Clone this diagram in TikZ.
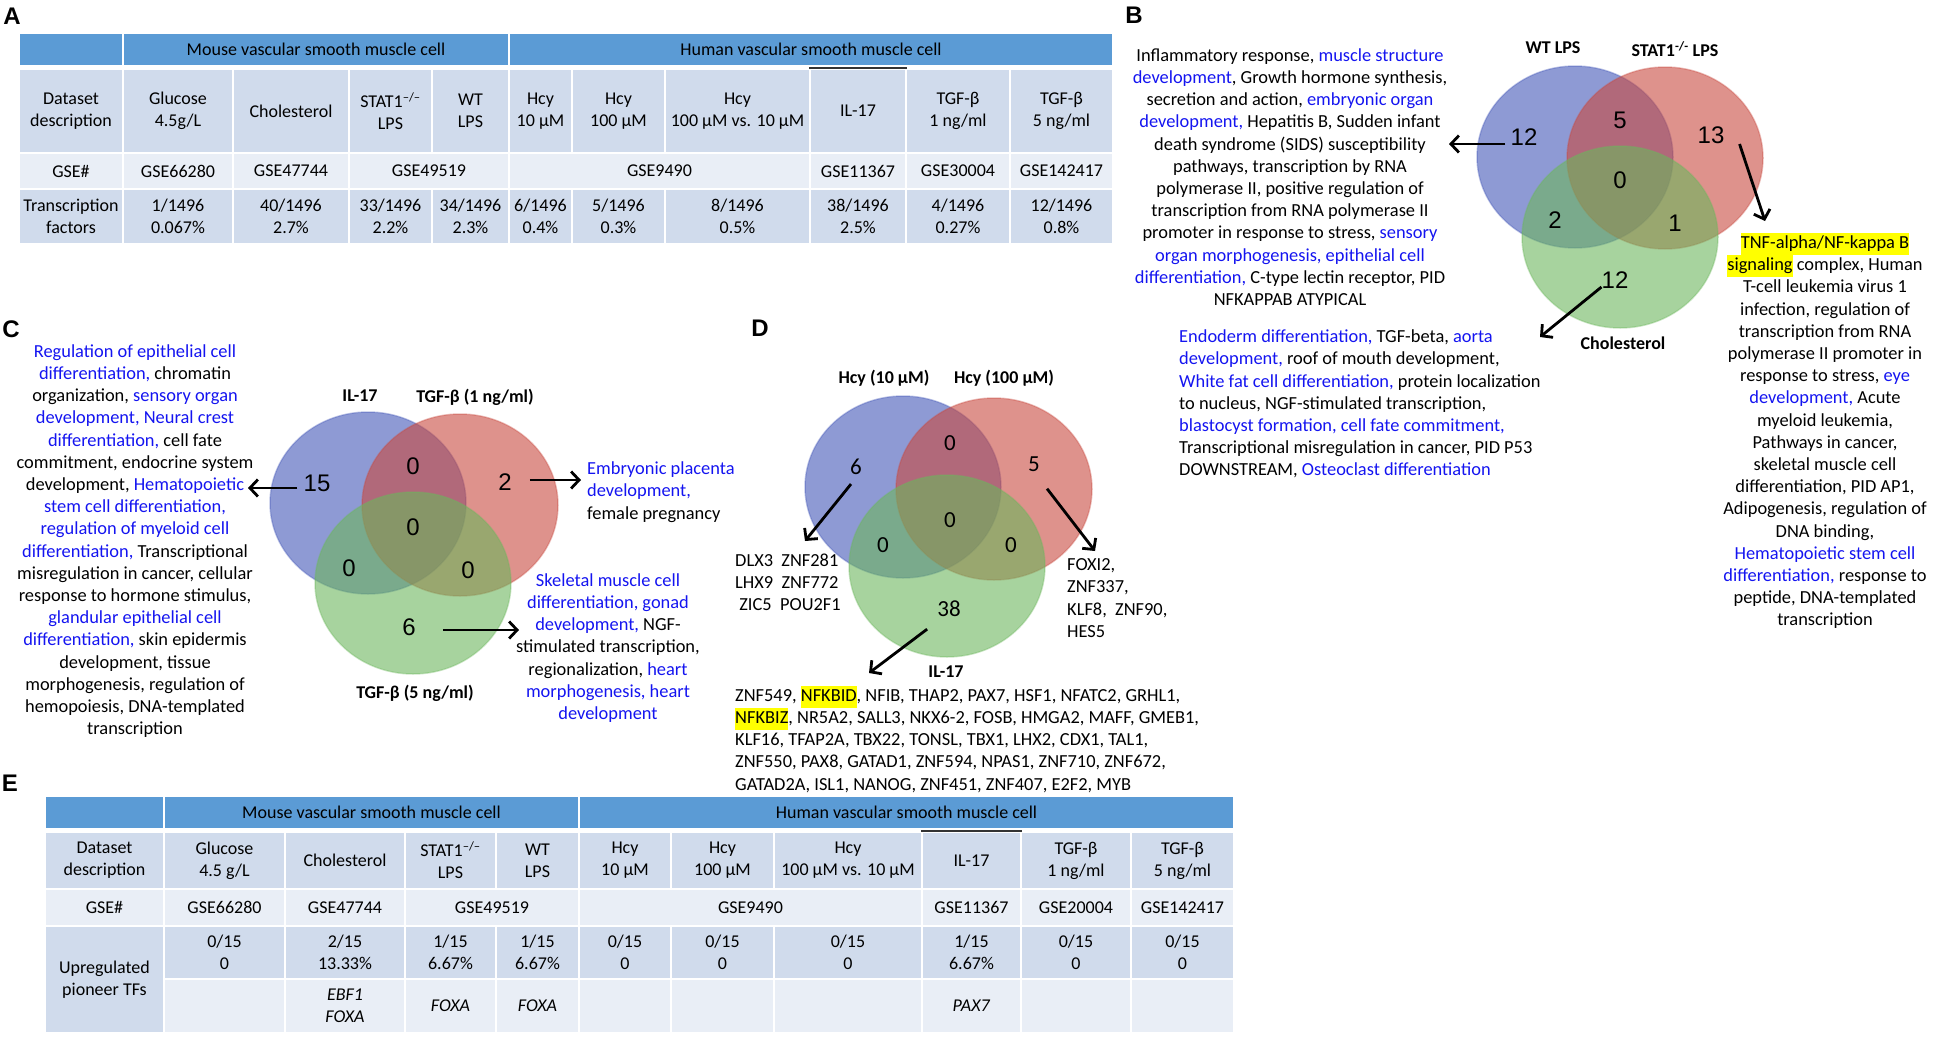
\documentclass[tikz,border=0pt]{standalone}
\usepackage{fontspec}
\setmainfont{Carlito}
\newfontfamily\arialfont{Liberation Sans}
\usepackage{tikz}
\usetikzlibrary{arrows.meta,shapes.geometric}

\definecolor{thead}{RGB}{91,155,213}
\definecolor{tdark}{RGB}{208,219,236}
\definecolor{tlight}{RGB}{233,238,246}
\definecolor{tblue}{RGB}{20,20,240}
\definecolor{hlyel}{RGB}{255,255,0}
\definecolor{vblue}{RGB}{67,87,183}
\definecolor{vred}{RGB}{200,73,63}
\definecolor{vgreen}{RGB}{108,182,93}

\newcommand{\blu}[1]{\textcolor{tblue}{#1}}
\newcommand{\hlite}[1]{{\setlength{\fboxsep}{0pt}\colorbox{hlyel}{\strut#1}}}
\newcommand{\ko}{\textsuperscript{–/–}}
\newcommand{\tabfont}{\fontsize{18}{22}\selectfont}
\newcommand{\bodyfont}{\fontsize{18.4}{22.2}\selectfont}
% cell: name, x1, y1, x2, y2, fill, text
\newcommand{\tcellat}[7]{\node[tcell, fill=#6, minimum width={(#4)-(#2)}, minimum height={(#5)-(#3)}] (#1) at ({((#2)+(#4))/2},{((#3)+(#5))/2}) {#7};}

\tikzset{
  tcell/.style={draw=white, line width=2.5pt, align=center, inner sep=0pt, font=\tabfont},
  vcirc/.style={ellipse, minimum width=196pt, minimum height=182pt, fill opacity=0.6, draw opacity=0.35, line width=1.5pt},
  vnum/.style={inner sep=1pt, font=\arialfont\fontsize{24}{24}\selectfont},
  dnum/.style={inner sep=1pt, font=\fontsize{23}{23}\selectfont},
  vlab/.style={inner sep=0pt, font=\bfseries\fontsize{18}{22}\selectfont},
  gotxt/.style={align=center, inner sep=0pt, font=\bodyfont},
  gotxtl/.style={align=left, inner sep=0pt, anchor=west, font=\bodyfont},
  plabel/.style={inner sep=0pt, font=\arialfont\bfseries\fontsize{24}{24}\selectfont},
  arr/.style={-{Straight Barb[length=8pt,width=17pt,line width=2.8pt]}, line width=2.8pt}
}

\begin{document}
\begin{tikzpicture}[x=1pt, y=-1pt]
\useasboundingbox (0,0) rectangle (1933,1039);

% panel letters
\node[plabel] (pa) at (12,16) {A};
\node[plabel] (pb) at (1134,15) {B};
\node[plabel] (pc) at (11,329) {C};
\node[plabel] (pd) at (760,328) {D};
\node[plabel] (pe) at (10,783) {E};

% ---------- table A
\tcellat{a11}{19}{33}{123}{66}{thead}{}
\tcellat{a12}{123}{33}{509}{66}{thead}{Mouse vascular smooth muscle cell}
\tcellat{a13}{509}{33}{1113}{66}{thead}{Human vascular smooth muscle cell}
\tcellat{a21}{19}{69}{123}{153}{tdark}{Dataset\\description}
\tcellat{a22}{123}{69}{233}{153}{tdark}{Glucose\\4.5g/L}
\tcellat{a23}{233}{69}{349}{153}{tdark}{Cholesterol}
\tcellat{a24}{349}{69}{432}{153}{tdark}{STAT1\ko\\LPS}
\tcellat{a25}{432}{69}{509}{153}{tdark}{WT\\LPS}
\tcellat{a26}{509}{69}{572}{153}{tdark}{Hcy\\10 µM}
\tcellat{a27}{572}{69}{665}{153}{tdark}{Hcy\\100 µM}
\tcellat{a28}{665}{69}{810}{153}{tdark}{Hcy\\100 µM vs. 10 µM}
\tcellat{a29}{810}{69}{906}{153}{tdark}{IL-17}
\tcellat{a2a}{906}{69}{1010}{153}{tdark}{TGF-β\\1 ng/ml}
\tcellat{a2b}{1010}{69}{1113}{153}{tdark}{TGF-β\\5 ng/ml}
\tcellat{a31}{19}{153}{123}{189}{tlight}{GSE\#}
\tcellat{a32}{123}{153}{233}{189}{tlight}{GSE66280}
\tcellat{a33}{233}{153}{349}{189}{tlight}{GSE47744}
\tcellat{a34}{349}{153}{509}{189}{tlight}{GSE49519}
\tcellat{a35}{509}{153}{810}{189}{tlight}{GSE9490}
\tcellat{a36}{810}{153}{906}{189}{tlight}{GSE11367}
\tcellat{a37}{906}{153}{1010}{189}{tlight}{GSE30004}
\tcellat{a38}{1010}{153}{1113}{189}{tlight}{GSE142417}
\tcellat{a41}{19}{189}{123}{244}{tdark}{Transcription\\factors}
\tcellat{a42}{123}{189}{233}{244}{tdark}{1/1496\\0.067\%}
\tcellat{a43}{233}{189}{349}{244}{tdark}{40/1496\\2.7\%}
\tcellat{a44}{349}{189}{432}{244}{tdark}{33/1496\\2.2\%}
\tcellat{a45}{432}{189}{509}{244}{tdark}{34/1496\\2.3\%}
\tcellat{a46}{509}{189}{572}{244}{tdark}{6/1496\\0.4\%}
\tcellat{a47}{572}{189}{665}{244}{tdark}{5/1496\\0.3\%}
\tcellat{a48}{665}{189}{810}{244}{tdark}{8/1496\\0.5\%}
\tcellat{a49}{810}{189}{906}{244}{tdark}{38/1496\\2.5\%}
\tcellat{a4a}{906}{189}{1010}{244}{tdark}{4/1496\\0.27\%}
\tcellat{a4b}{1010}{189}{1113}{244}{tdark}{12/1496\\0.8\%}
\draw[line width=2pt, black!80] (a29.north west) -- (a29.north east);

% ---------- B
\node[vcirc, fill=vblue, draw=vblue] (bwt) at (1575,157) {};
\node[vcirc, fill=vred, draw=vred] (bst) at (1665,158) {};
\node[vcirc, fill=vgreen, draw=vgreen] (bch) at (1620,237) {};
\node[vlab] (bwtl) at (1553,48) {WT LPS};
\node[vlab] (bstl) at (1675,49) {STAT1\textsuperscript{-/-} LPS};
\node[vlab] (bchl) at (1623,343) {Cholesterol};
\node[vnum] (bn12) at (1524,137) {12};
\node[vnum] (bn5) at (1620,120) {5};
\node[vnum] (bn13) at (1711,135) {13};
\node[vnum] (bn0) at (1620,180) {0};
\node[vnum] (bn2) at (1555,220) {2};
\node[vnum] (bn1) at (1675,223) {1};
\node[vnum] (bn12g) at (1615,280) {12};
\node[gotxt] (btxtl) at (1290,177) {Inflammatory response, \blu{muscle structure}\\
  \blu{development}, Growth hormone synthesis,\\
  secretion and action, \blu{embryonic organ}\\
  \blu{development,} Hepatitis B, Sudden infant\\
  death syndrome (SIDS) susceptibility\\
  pathways, transcription by RNA\\
  polymerase II, positive regulation of\\
  transcription from RNA polymerase II\\
  promoter in response to stress, \blu{sensory}\\
  \blu{organ morphogenesis, epithelial cell}\\
  \blu{differentiation,} C-type lectin receptor, PID\\
  NFKAPPAB ATYPICAL};
\node[gotxt] (btxtr) at (1825,431) {\hlite{TNF-alpha/NF-kappa B}\\
  \hlite{signaling} complex, Human\\
  T-cell leukemia virus 1\\
  infection, regulation of\\
  transcription from RNA\\
  polymerase II promoter in\\
  response to stress, \blu{eye}\\
  \blu{development,} Acute\\
  myeloid leukemia,\\
  Pathways in cancer,\\
  skeletal muscle cell\\
  differentiation, PID AP1,\\
  Adipogenesis, regulation of\\
  DNA binding,\\
  \blu{Hematopoietic stem cell}\\
  \blu{differentiation,} response to\\
  peptide, DNA-templated\\
  transcription};
\node[gotxtl] (btxtb) at (1179,404) {\blu{Endoderm differentiation,} TGF-beta, \blu{aorta}\\
  \blu{development,} roof of mouth development,\\
  \blu{White fat cell differentiation,} protein localization\\
  to nucleus, NGF-stimulated transcription,\\
  \blu{blastocyst formation, cell fate commitment,}\\
  Transcriptional misregulation in cancer, PID P53\\
  DOWNSTREAM, \blu{Osteoclast differentiation}};
\coordinate (btipl) at (1449,144);
\coordinate (btipr) at (1765,221);
\coordinate (btipb) at (1540,337);
\draw[arr] ([shift={(-4,7)}]bn12.west) -- (btipl);
\draw[arr] ([shift={(14,9)}]bn13.east) -- (btipr);
\draw[arr] ([shift={(1,7)}]bn12g.west) -- (btipb);

% ---------- C
\node[vcirc, fill=vblue, draw=vblue] (cil) at (368,503) {};
\node[vcirc, fill=vred, draw=vred] (ct1) at (460,505) {};
\node[vcirc, fill=vgreen, draw=vgreen] (ct5) at (413,583) {};
\node[vlab] (cill) at (360,396) {IL-17};
\node[vlab] (ct1l) at (475,397) {TGF-β (1 ng/ml)};
\node[vlab] (ct5l) at (415,693) {TGF-β (5 ng/ml)};
\node[vnum] (cn15) at (317,483) {15};
\node[vnum] (cn0a) at (413,466) {0};
\node[vnum] (cn2) at (505,482) {2};
\node[vnum] (cn0b) at (413,527) {0};
\node[vnum] (cn0c) at (349,568) {0};
\node[vnum] (cn0d) at (468,570) {0};
\node[vnum] (cn6) at (409,627) {6};
\node[gotxt] (ctxtl) at (135,541) {\blu{Regulation of epithelial cell}\\
  \blu{differentiation,} chromatin\\
  organization, \blu{sensory organ}\\
  \blu{development, Neural crest}\\
  \blu{differentiation,} cell fate\\
  commitment, endocrine system\\
  development, \blu{Hematopoietic}\\
  \blu{stem cell differentiation,}\\
  \blu{regulation of myeloid cell}\\
  \blu{differentiation,} Transcriptional\\
  misregulation in cancer, cellular\\
  response to hormone stimulus,\\
  \blu{glandular epithelial cell}\\
  \blu{differentiation,} skin epidermis\\
  development, tissue\\
  morphogenesis, regulation of\\
  hemopoiesis, DNA-templated\\
  transcription};
\node[gotxtl] (ctxtr) at (587,492) {\blu{Embryonic placenta}\\
  \blu{development,}\\
  female pregnancy};
\node[gotxt] (ctxtb) at (608,648) {\blu{Skeletal muscle cell}\\
  \blu{differentiation, gonad}\\
  \blu{development,} NGF-\\
  stimulated transcription,\\
  regionalization, \blu{heart}\\
  \blu{morphogenesis, heart}\\
  \blu{development}};
\coordinate (ctipl) at (248,488);
\coordinate (ctipr) at (581,480);
\coordinate (ctipb) at (519,630);
\draw[arr] ([shift={(-5,5)}]cn15.west) -- (ctipl);
\draw[arr] ([shift={(17,-2)}]cn2.east) -- (ctipr);
\draw[arr] ([shift={(26,3)}]cn6.east) -- (ctipb);

% ---------- D
\node[vcirc, fill=vblue, draw=vblue] (dh10) at (903,487) {};
\node[vcirc, fill=vred, draw=vred] (dh100) at (994,489) {};
\node[vcirc, fill=vgreen, draw=vgreen] (dil) at (947,566) {};
\node[vlab] (dh10l) at (884,378) {Hcy (10 µM)};
\node[vlab] (dh100l) at (1004,378) {Hcy (100 µM)};
\node[vlab] (dill) at (946,672) {IL-17};
\node[dnum] (dn6) at (856,467) {6};
\node[dnum] (dn0a) at (950,443) {0};
\node[dnum] (dn5) at (1034,464) {5};
\node[dnum] (dn0b) at (950,520) {0};
\node[dnum] (dn0c) at (883,545) {0};
\node[dnum] (dn0d) at (1011,545) {0};
\node[dnum] (dn38) at (949,609) {38};
\node[gotxtl] (dtxtl) at (735,582) {DLX3\ \ ZNF281\\
  LHX9\ \ ZNF772\\
  \ ZIC5\ \ POU2F1};
\node[gotxtl] (dtxtr) at (1067,598) {FOXI2,\\
  ZNF337,\\
  KLF8,\ \ ZNF90,\\
  HES5};
\node[gotxtl] (dtxtb) at (735,739) {ZNF549, \hlite{NFKBID}, NFIB, THAP2, PAX7, HSF1, NFATC2, GRHL1,\\
  \hlite{NFKBIZ}, NR5A2, SALL3, NKX6-2, FOSB, HMGA2, MAFF, GMEB1,\\
  KLF16, TFAP2A, TBX22, TONSL, TBX1, LHX2, CDX1, TAL1,\\
  ZNF550, PAX8, GATAD1, ZNF594, NPAS1, ZNF710, ZNF672,\\
  GATAD2A, ISL1, NANOG, ZNF451, ZNF407, E2F2, MYB};
\coordinate (dtipl) at (805,541);
\coordinate (dtipr) at (1095,551);
\coordinate (dtipb) at (869,673);
\draw[arr] ([shift={(-5,8)}]dn6.south) -- (dtipl);
\draw[arr] ([shift={(6,16)}]dn5.south east) -- (dtipr);
\draw[arr] ([shift={(-9,11)}]dn38.south west) -- (dtipb);

% ---------- table E
\tcellat{e11}{45}{796}{164}{829}{thead}{}
\tcellat{e12}{164}{796}{579}{829}{thead}{Mouse vascular smooth muscle cell}
\tcellat{e13}{579}{796}{1234}{829}{thead}{Human vascular smooth muscle cell}
\tcellat{e21}{45}{832}{164}{889}{tdark}{Dataset\\description}
\tcellat{e22}{164}{832}{285}{889}{tdark}{Glucose\\4.5 g/L}
\tcellat{e23}{285}{832}{405}{889}{tdark}{Cholesterol}
\tcellat{e24}{405}{832}{496}{889}{tdark}{STAT1\ko\\LPS}
\tcellat{e25}{496}{832}{579}{889}{tdark}{WT\\LPS}
\tcellat{e26}{579}{832}{671}{889}{tdark}{Hcy\\10 µM}
\tcellat{e27}{671}{832}{774}{889}{tdark}{Hcy\\100 µM}
\tcellat{e28}{774}{832}{922}{889}{tdark}{Hcy\\100 µM vs. 10 µM}
\tcellat{e29}{922}{832}{1021}{889}{tdark}{IL-17}
\tcellat{e2a}{1021}{832}{1131}{889}{tdark}{TGF-β\\1 ng/ml}
\tcellat{e2b}{1131}{832}{1234}{889}{tdark}{TGF-β\\5 ng/ml}
\tcellat{e31}{45}{889}{164}{926}{tlight}{GSE\#}
\tcellat{e32}{164}{889}{285}{926}{tlight}{GSE66280}
\tcellat{e33}{285}{889}{405}{926}{tlight}{GSE47744}
\tcellat{e34}{405}{889}{579}{926}{tlight}{GSE49519}
\tcellat{e35}{579}{889}{922}{926}{tlight}{GSE9490}
\tcellat{e36}{922}{889}{1021}{926}{tlight}{GSE11367}
\tcellat{e37}{1021}{889}{1131}{926}{tlight}{GSE20004}
\tcellat{e38}{1131}{889}{1234}{926}{tlight}{GSE142417}
\tcellat{e41}{45}{926}{164}{1033}{tdark}{Upregulated\\pioneer TFs}
\tcellat{e42}{164}{926}{285}{979}{tdark}{0/15\\0}
\tcellat{e43}{285}{926}{405}{979}{tdark}{2/15\\13.33\%}
\tcellat{e44}{405}{926}{496}{979}{tdark}{1/15\\6.67\%}
\tcellat{e45}{496}{926}{579}{979}{tdark}{1/15\\6.67\%}
\tcellat{e46}{579}{926}{671}{979}{tdark}{0/15\\0}
\tcellat{e47}{671}{926}{774}{979}{tdark}{0/15\\0}
\tcellat{e48}{774}{926}{922}{979}{tdark}{0/15\\0}
\tcellat{e49}{922}{926}{1021}{979}{tdark}{1/15\\6.67\%}
\tcellat{e4a}{1021}{926}{1131}{979}{tdark}{0/15\\0}
\tcellat{e4b}{1131}{926}{1234}{979}{tdark}{0/15\\0}
\tcellat{e52}{164}{979}{285}{1033}{tlight}{}
\tcellat{e53}{285}{979}{405}{1033}{tlight}{\textit{EBF1}\\\textit{FOXA}}
\tcellat{e54}{405}{979}{496}{1033}{tlight}{\textit{FOXA}}
\tcellat{e55}{496}{979}{579}{1033}{tlight}{\textit{FOXA}}
\tcellat{e56}{579}{979}{671}{1033}{tlight}{}
\tcellat{e57}{671}{979}{774}{1033}{tlight}{}
\tcellat{e58}{774}{979}{922}{1033}{tlight}{}
\tcellat{e59}{922}{979}{1021}{1033}{tlight}{\textit{PAX7}}
\tcellat{e5a}{1021}{979}{1131}{1033}{tlight}{}
\tcellat{e5b}{1131}{979}{1234}{1033}{tlight}{}
\draw[line width=2pt, black!80] (e29.north west) -- (e29.north east);
\end{tikzpicture}
\end{document}
